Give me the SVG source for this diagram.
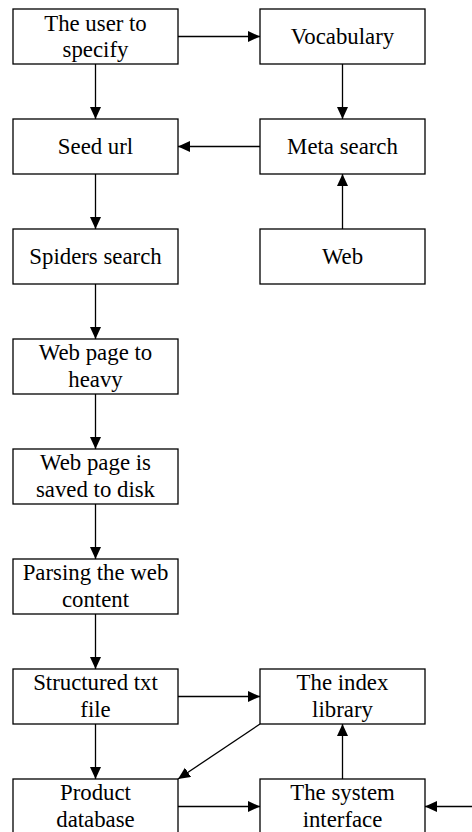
<svg xmlns="http://www.w3.org/2000/svg" width="472" height="832" viewBox="0 0 472 832">
<style>
.box{fill:#fff;stroke:#000;stroke-width:1.3}
.t{font-family:'Liberation Serif','Times New Roman',Times,'DejaVu Serif',serif;font-size:22.8px;fill:#000;text-anchor:middle}
.c{stroke:#000;stroke-width:1.3;fill:none;marker-end:url(#ah)}
</style>
<defs>
<marker id="ah" markerUnits="userSpaceOnUse" markerWidth="14" markerHeight="12" refX="12" refY="5.5" orient="auto">
<path d="M0,0 L12,5.5 L0,11 Z" fill="#000"/>
</marker>
</defs>
<rect width="472" height="832" fill="#fff"/>
<g id="n-user"><rect class="box" x="13" y="9" width="165" height="55"/><text class="t" x="95.5" y="30.5" font-family="Liberation Serif">The user to</text><text class="t" x="95.5" y="57">specify</text></g>
<g id="n-vocab"><rect class="box" x="260" y="9" width="165" height="55"/><text class="t" x="342.5" y="44">Vocabulary</text></g>
<g id="n-seed"><rect class="box" x="13" y="119" width="165" height="55"/><text class="t" x="95.5" y="154">Seed url</text></g>
<g id="n-meta"><rect class="box" x="260" y="119" width="165" height="55"/><text class="t" x="342.5" y="154">Meta search</text></g>
<g id="n-spiders"><rect class="box" x="13" y="229" width="165" height="55"/><text class="t" x="95.5" y="264">Spiders search</text></g>
<g id="n-web"><rect class="box" x="260" y="229" width="165" height="55"/><text class="t" x="342.5" y="264">Web</text></g>
<g id="n-heavy"><rect class="box" x="13" y="339" width="165" height="55"/><text class="t" x="95.5" y="360">Web page to</text><text class="t" x="95.5" y="387">heavy</text></g>
<g id="n-saved"><rect class="box" x="13" y="449" width="165" height="55"/><text class="t" x="95.5" y="470">Web page is</text><text class="t" x="95.5" y="497">saved to disk</text></g>
<g id="n-parse"><rect class="box" x="13" y="559" width="165" height="55"/><text class="t" x="95.5" y="580">Parsing the web</text><text class="t" x="95.5" y="607">content</text></g>
<g id="n-struct"><rect class="box" x="13" y="669" width="165" height="55"/><text class="t" x="95.5" y="690">Structured txt</text><text class="t" x="95.5" y="717">file</text></g>
<g id="n-index"><rect class="box" x="260" y="669" width="165" height="55"/><text class="t" x="342.5" y="690">The index</text><text class="t" x="342.5" y="717">library</text></g>
<g id="n-product"><rect class="box" x="13" y="779" width="165" height="60"/><text class="t" x="95.5" y="800">Product</text><text class="t" x="95.5" y="827">database</text></g>
<g id="n-sys"><rect class="box" x="260" y="779" width="165" height="60"/><text class="t" x="342.5" y="800">The system</text><text class="t" x="342.5" y="827">interface</text></g>
<g id="connectors">
<line class="c" x1="178" y1="36.5" x2="260" y2="36.5"/>
<line class="c" x1="95.5" y1="64" x2="95.5" y2="119"/>
<line class="c" x1="342.5" y1="64" x2="342.5" y2="119"/>
<line class="c" x1="260" y1="146.5" x2="178" y2="146.5"/>
<line class="c" x1="342.5" y1="229" x2="342.5" y2="174"/>
<line class="c" x1="95.5" y1="174" x2="95.5" y2="229"/>
<line class="c" x1="95.5" y1="284" x2="95.5" y2="339"/>
<line class="c" x1="95.5" y1="394" x2="95.5" y2="449"/>
<line class="c" x1="95.5" y1="504" x2="95.5" y2="559"/>
<line class="c" x1="95.5" y1="614" x2="95.5" y2="669"/>
<line class="c" x1="178" y1="696.5" x2="260" y2="696.5"/>
<line class="c" x1="95.5" y1="724" x2="95.5" y2="779"/>
<line class="c" x1="260" y1="724" x2="178" y2="779"/>
<line class="c" x1="178" y1="806.5" x2="260" y2="806.5"/>
<line class="c" x1="342.5" y1="779" x2="342.5" y2="724"/>
<line class="c" x1="472" y1="806.5" x2="425" y2="806.5"/>
</g>
</svg>
